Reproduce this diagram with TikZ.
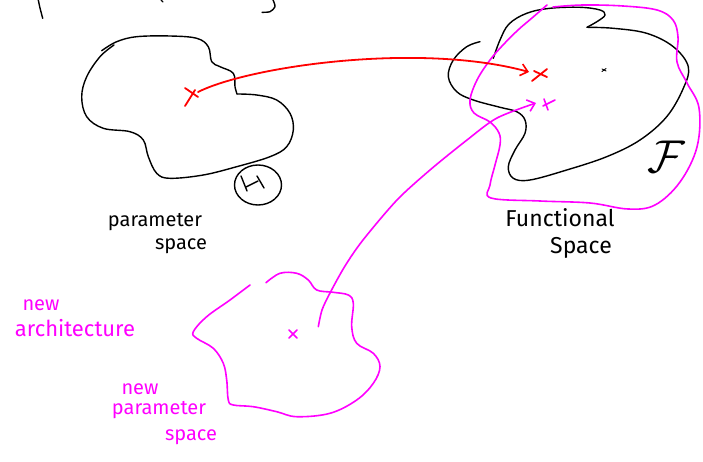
\documentclass[tikz,border=0pt]{standalone}
\usepackage{fontspec}
\setmainfont{Fira Sans}
\usetikzlibrary{arrows.meta,shapes.geometric}
\definecolor{penred}{RGB}{255,0,0}
\definecolor{penpink}{RGB}{255,0,255}
\tikzset{
  ink/.style={line width=1.4pt, line cap=round, line join=round, draw=black},
  redink/.style={ink, draw=penred, line width=1.8pt},
  pinkink/.style={ink, draw=penpink, line width=1.6pt},
  barb/.style={-{Straight Barb[length=7pt,width=12pt,line width=1.6pt]}},
  hand/.style={inner sep=0pt, font=\fontsize{20}{22}\selectfont},
  handpink/.style={hand, text=penpink}
}
\begin{document}
\begin{tikzpicture}[x=1pt,y=-1pt]
\useasboundingbox (0,0) rectangle (703,462);
\fill[white] (0,0) rectangle (703,462);

% strokes of a heading cut off at the top edge
\draw[ink] plot[smooth] coordinates {(38.3,0) (40,8) (42.7,18.3)};
\draw[ink] (161,0) -- (163,2);
\draw[ink] plot[smooth] coordinates {(273,0) (275,6.7) (270,11.7) (262,12.3)};

% parameter space blob
\draw[ink] plot[smooth, tension=0.6] coordinates {(101.7,50.7) (116.7,41.7) (136.7,36.7) (170,36) (196.7,38.3) (208.3,46.7) (211.7,61.7) (220,66.7) (233.3,73.3) (235,86.7) (237,94)};
\draw[ink] plot[smooth, tension=0.6] coordinates {(237,94) (256.7,95) (276.7,100) (290,113.3) (293.3,130) (286.7,146.7) (270,156.7) (236.7,166.7) (203.3,175) (170,178.3) (156.7,173.3) (148.3,156.7) (143.3,140) (130,131.7) (103.3,128.3) (86.7,116.7) (81.7,96.7) (86.7,76.7) (100,56.7) (114,45)};

% Theta, circled
\node[ink, draw, ellipse, minimum width=47pt, minimum height=40pt, inner sep=0pt] (theta) at (258,185) {};
\draw[ink] ([shift={(-17,-9)}]theta.center) -- ([shift={(-11,6)}]theta.center);
\draw[ink] ([shift={(-12,2)}]theta.center) -- ([shift={(0,-4)}]theta.center);
\draw[ink] ([shift={(-1,-9)}]theta.center) -- ([shift={(6,3)}]theta.center);

% functional space blob
\draw[ink] plot[smooth, tension=0.6] coordinates {(493.3,58.3) (500,40) (509,24) (526.7,13.3) (550,8.3) (580,7.3) (600,10) (605,15) (598,21) (587,27.3)};
\draw[ink] plot[smooth, tension=0.6] coordinates {(587,27.3) (613.3,28.3) (646.7,33.3) (673.3,46.7) (688.3,66.7) (683.3,88.3) (666.7,116.7) (640,140) (606.7,156.7) (566.7,170) (530,180) (513.3,178.3) (508.3,166.7) (515,150) (525,133.3) (525,120) (516.7,111.7) (500,107.3) (473.3,100) (456.7,91.7) (448.3,76.7) (453.3,60) (466.7,46.7) (480,41.7)};
\node[inner sep=0pt, scale=4.6] (F) at (666,157) {$\mathcal{F}$};

% region reached by the new architecture
\draw[pinkink] plot[smooth, tension=0.6] coordinates {(547,5) (532,18) (518,30) (503,45) (490,60) (477,80) (470,100) (474,113) (490,122) (499,133) (500,145) (495,165) (490,185) (491,198) (540,201) (590,203) (628,209) (655,205) (680,182) (697,147) (699,108) (687,83) (677,62) (678,37) (673,20) (657,10) (623,6) (583,5) (553,7)};

% new parameter space blob
\draw[pinkink] plot[smooth, tension=0.6] coordinates {(266,282.7) (280,273.3) (296.7,273.3) (308.3,280) (316.7,290) (333.3,292.3) (348.3,295) (353.3,303.3) (351.7,326.7) (356.7,343.3) (373.3,353.3) (380,366.7) (373.3,383.3) (356.7,400) (330,413.3) (296.7,416.7) (276.7,411.7) (253.3,406.7) (233.3,405) (228.3,400) (226.7,380) (223.3,363.3) (213.3,348.3) (196.7,338.3) (193.3,331.7) (206.7,316.7) (230,300) (250,285)};

% points
\coordinate (theta0) at (191,96);
\coordinate (f0) at (540,74);
\coordinate (f1) at (549,104);
\coordinate (fc) at (604,70);
\coordinate (phi0) at (293,334);
\coordinate (redstart) at (198,92);
\coordinate (redend) at (529,72);
\coordinate (pinkstart) at (318.3,326.7);
\coordinate (pinkend) at (536,103);

\draw[redink] ([shift={(-6,-8)}]theta0) -- ([shift={(7,1)}]theta0);
\draw[redink] ([shift={(4,-6)}]theta0) -- ([shift={(-6,10)}]theta0);
\draw[redink] ([shift={(-8,7)}]f0) -- ([shift={(7,-5)}]f0);
\draw[redink] ([shift={(-6,-3)}]f0) -- ([shift={(7,3)}]f0);
\draw[pinkink] ([shift={(-5,-5)}]f1) -- ([shift={(-1,6)}]f1);
\draw[pinkink] ([shift={(-6,2)}]f1) -- ([shift={(6,-4)}]f1);
\draw[pinkink] ([shift={(-4,-4)}]phi0) -- ([shift={(4,4)}]phi0);
\draw[pinkink] ([shift={(4,-4)}]phi0) -- ([shift={(-4,4)}]phi0);
\draw[ink, line width=0.9pt] ([shift={(-2,-1)}]fc) -- ([shift={(2,1)}]fc);
\draw[ink, line width=0.9pt] ([shift={(2,-1.5)}]fc) -- ([shift={(-2,1.5)}]fc);

% mappings into function space
\draw[redink, barb] (redstart) .. controls (250,66) and (420,42) .. (redend);
\draw[pinkink, barb] plot[smooth] coordinates {(pinkstart) (322,310) (330,293) (345,266) (363,240) (397,200) (430,170) (467,140) (497,118) (pinkend)};

% labels
\node[hand] (plab1) at (155,222) {parameter};
\node[hand] (plab2) at (181,246) {space};
\node[hand, font=\fontsize{23}{25}\selectfont] (flab1) at (560,218) {Functional};
\node[hand, font=\fontsize{23}{25}\selectfont] (flab2) at (581,248) {Space};
\node[handpink] (alab1) at (41,305) {new};
\node[handpink, font=\fontsize{22}{24}\selectfont] (alab2) at (75,328) {architecture};
\node[handpink] (nlab1) at (140,389) {new};
\node[handpink] (nlab2) at (159,410) {parameter};
\node[handpink] (nlab3) at (191,437) {space};
\end{tikzpicture}
\end{document}
